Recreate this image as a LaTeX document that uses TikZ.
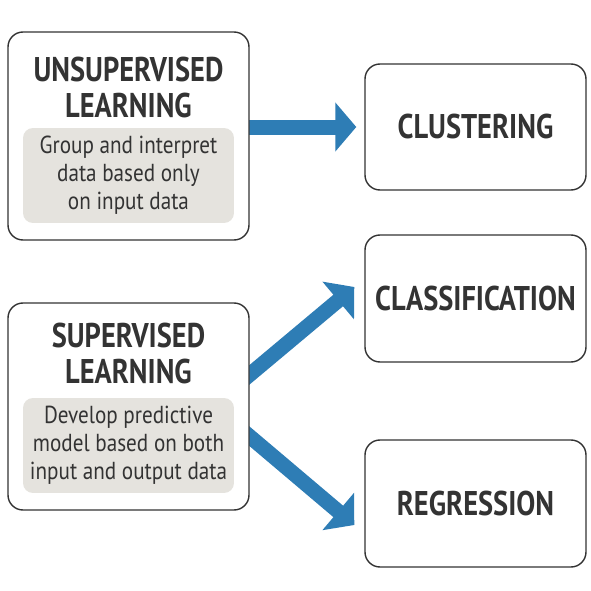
\documentclass[tikz,border=0pt]{standalone}
\usepackage{fontspec}
\setmainfont{PT Sans}
\newfontfamily\headfont[FakeStretch=0.83]{PT Sans}
\newfontfamily\bodyfont[FakeStretch=0.86]{PT Sans}
\usetikzlibrary{arrows.meta,calc,backgrounds}
\definecolor{flowblue}{RGB}{46,125,181}
\definecolor{notegray}{RGB}{229,227,222}
\definecolor{inkgray}{RGB}{51,51,51}
\tikzset{
  box/.style={draw=inkgray, line width=0.8pt, rounded corners=0.3cm, fill=white},
  note/.style={fill=notegray, rounded corners=0.2cm, minimum width=4.22cm, minimum height=1.9cm,
    text=inkgray, align=center, font=\bodyfont\fontsize{14}{16}\selectfont},
  head/.style={text=inkgray, align=center, font=\headfont\bfseries\fontsize{19.5}{20.5}\selectfont},
  bigarrow/.style={draw=flowblue, line width=0.3cm, -{Triangle[length=0.42cm, width=0.96cm]}}
}
\begin{document}
\begin{tikzpicture}
    \useasboundingbox (0, 0) rectangle (11.82, 11.82);

    % left side
    \node[box, minimum width=4.82cm, minimum height=4.16cm] (unsup) at (2.57, 9.10) {};
    \node[note] (unsupnote) at ($(unsup)+(0,-0.79)$) {Group and interpret\\data based only\\on input data};
    \node[head] (unsuphead) at ($(unsup)+(0,0.97)$) {UNSUPERVISED\\LEARNING};

    \node[box, minimum width=4.82cm, minimum height=4.14cm] (sup) at (2.57, 3.69) {};
    \node[note] (supnote) at ($(sup)+(0,-0.78)$) {Develop predictive\\model based on both\\input and output data};
    \node[head] (suphead) at ($(sup)+(0,1.06)$) {SUPERVISED\\LEARNING};

    % right side
    \node[box, head, minimum width=4.42cm, minimum height=2.52cm] (clust) at (9.51, 9.28) {CLUSTERING};
    \node[box, head, minimum width=4.42cm, minimum height=2.54cm] (class) at (9.51, 5.85) {CLASSIFICATION};
    \node[box, head, minimum width=4.42cm, minimum height=2.54cm] (regr) at (9.51, 1.75) {REGRESSION};

    \coordinate (upstart) at ($(sup.east)+(-0.2,0.47)$);
    \coordinate (downstart) at ($(sup.east)+(-0.2,-0.43)$);
    \coordinate (uptip) at ($(class.west)+(-0.2,0.23)$);
    \coordinate (downtip) at ($(regr.west)+(-0.2,-0.43)$);

    \begin{scope}[on background layer]
      \draw[bigarrow, shorten >=0.16cm] ([xshift=-0.2cm]unsup.east |- clust.west) -- (clust.west);
      \draw[bigarrow] (upstart) -- (uptip);
      \draw[bigarrow] (downstart) -- (downtip);
    \end{scope}
  \end{tikzpicture}
\end{document}
